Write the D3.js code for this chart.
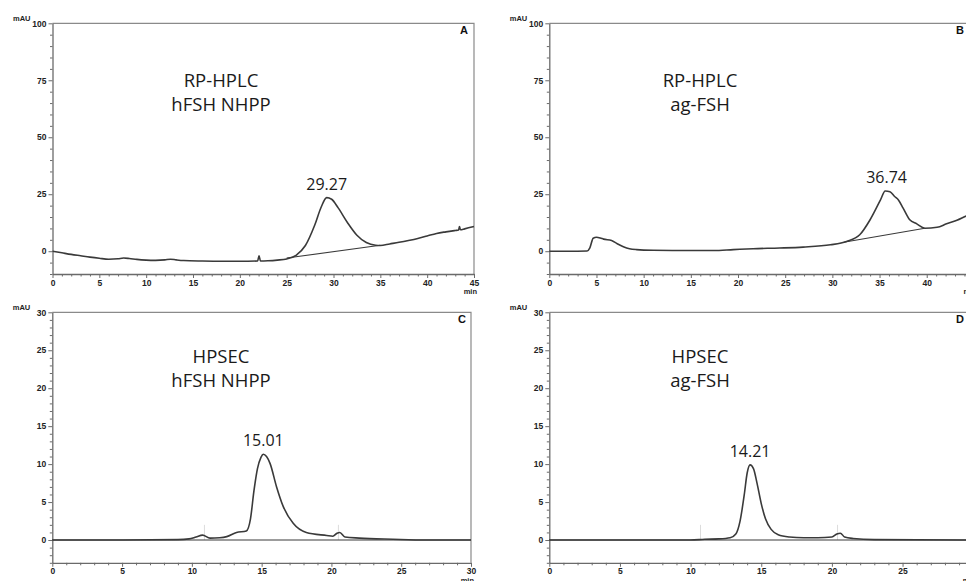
<!DOCTYPE html>
<html>
<head>
<meta charset="utf-8">
<script src="https://cdn.jsdelivr.net/npm/d3@7"></script>
<style>
  html, body { margin: 0; padding: 0; background: #fff; }
  svg { display: block; }
</style>
</head>
<body>
<svg id="chart" width="966" height="581"></svg>
<script>
// ---------- DATA ----------
// Panel A: RP-HPLC hFSH NHPP (time in min, signal in mAU)
const rpNhppTime   = [0, 1, 2, 3, 4, 5, 6, 7, 7.6, 8.2, 9, 10, 11, 12, 12.6, 13.2, 14, 16, 18, 20, 21.9, 22.05, 22.2, 23, 24, 25, 26, 27, 28, 28.7, 29.27, 29.8, 30.5, 31.5, 32.5, 33.5, 34.5, 35, 36, 37, 38, 39, 40, 41, 42, 43, 43.35, 43.45, 43.55, 44, 45];
const rpNhppSignal = [0, -0.7, -1.4, -2.0, -2.6, -3.1, -3.5, -3.3, -3.0, -3.2, -3.6, -3.9, -4.0, -3.8, -3.5, -3.8, -4.1, -4.3, -4.4, -4.4, -4.3, -2.0, -4.3, -4.2, -3.9, -3.4, -1.8, 2.5, 11.5, 19.5, 23.5, 22.8, 19.0, 12.5, 7.0, 3.8, 2.6, 2.5, 3.2, 3.9, 4.7, 5.6, 6.7, 7.8, 8.5, 9.1, 9.3, 10.8, 9.4, 9.8, 10.8];
const rpNhppBaseT  = [25, 35];
const rpNhppBaseV  = [-3.0, 2.6];

// Panel B: RP-HPLC ag-FSH
const rpAgTime   = [0, 2, 4.0, 4.3, 4.65, 5.0, 5.4, 5.75, 6.6, 7.2, 7.85, 8.5, 9.25, 11, 14, 17.4, 19.5, 21.6, 24.4, 26.9, 29.8, 31.5, 32.9, 34.0, 35.1, 35.6, 36.1, 36.6, 37.0, 37.5, 38.2, 38.95, 39.8, 41.1, 42.1, 43.2, 44.2, 45];
const rpAgSignal = [0, 0, 0.1, 1.5, 5.7, 6.1, 5.8, 5.3, 4.7, 3.3, 2.0, 1.1, 0.7, 0.4, 0.3, 0.3, 0.7, 1.1, 1.4, 1.8, 2.8, 4.3, 7.2, 13.8, 22.5, 26.4, 26.1, 24.0, 22.5, 18.9, 13.8, 12.0, 10.1, 10.5, 12.0, 13.6, 15.5, 16.8];
const rpAgBaseT  = [31.2, 39.8];
const rpAgBaseV  = [3.9, 10.1];

// Panel C: HPSEC hFSH NHPP
const secNhppTime   = [0, 5, 9, 9.8, 10.3, 10.77, 11.3, 12.0, 12.5, 13.2, 13.9, 14.2, 14.45, 14.7, 14.95, 15.12, 15.35, 15.6, 16.07, 16.55, 17.26, 18.2, 19.66, 20.1, 20.4, 20.6, 20.97, 22.0, 24.4, 26.8, 30];
const secNhppSignal = [0, 0, 0.05, 0.15, 0.4, 0.65, 0.25, 0.3, 0.45, 1.0, 1.2, 2.8, 6.5, 9.4, 10.9, 11.3, 11.0, 10.1, 7.0, 4.4, 2.2, 1.0, 0.6, 0.5, 0.9, 1.0, 0.4, 0.25, 0.1, 0.0, 0.0];

// Panel D: HPSEC ag-FSH
const secAgTime   = [0, 5, 10, 11, 12, 12.8, 13.2, 13.5, 13.8, 14.0, 14.21, 14.45, 14.7, 15.0, 15.3, 15.7, 16.2, 17, 18, 19, 20, 20.35, 20.6, 20.9, 21.5, 23, 30];
const secAgSignal = [0, 0, 0, 0.1, 0.15, 0.3, 0.8, 2.5, 6.0, 8.8, 9.9, 9.4, 7.5, 4.8, 2.8, 1.4, 0.7, 0.4, 0.3, 0.3, 0.4, 0.8, 0.9, 0.4, 0.2, 0.05, 0];

// Faint event marks (time) in the SEC runs
const secNhppMarkT = [10.9, 20.5];
const secAgMarkT   = [10.7, 20.4];
const secMarkTop   = 2.0;

// Axis ticks
const rpTimeTicks   = [0, 5, 10, 15, 20, 25, 30, 35, 40, 45];
const rpSignalTicks = [0, 25, 50, 75, 100];
const secTimeTicks   = [0, 5, 10, 15, 20, 25, 30];
const secSignalTicks = [0, 5, 10, 15, 20, 25, 30];

// Texts
const panelLetters = ["A", "B", "C", "D"];
const panelTitles = [["RP-HPLC", "hFSH NHPP"], ["RP-HPLC", "ag-FSH"], ["HPSEC", "hFSH NHPP"], ["HPSEC", "ag-FSH"]];
const peakLabels = ["29.27", "36.74", "15.01", "14.21"];
const peakTimes  = [29.27, 35.75, 15.12, 14.21];
const peakValues = [23.5, 26.4, 11.3, 9.9];

// ---------- LAYOUT ----------
const panels = [
  { t: rpNhppTime, v: rpNhppSignal, bt: rpNhppBaseT, bv: rpNhppBaseV, marks: [], xd: [0, 45], yd: [-10, 100], xr: [52.5, 474], yr: [274, 23.3], xt: rpTimeTicks, yt: rpSignalTicks, xMinor: 1, yMinor: 5, titleX: 221, titleY: 87, letterX: 468, minY: 294 },
  { t: rpAgTime, v: rpAgSignal, bt: rpAgBaseT, bv: rpAgBaseV, marks: [], xd: [0, 45], yd: [-10, 100], xr: [549.3, 973.9], yr: [274, 23.3], xt: rpTimeTicks, yt: rpSignalTicks, xMinor: 1, yMinor: 5, titleX: 700, titleY: 87, letterX: 964, minY: 294 },
  { t: secNhppTime, v: secNhppSignal, bt: [0, 30], bv: [0, 0], marks: secNhppMarkT, xd: [0, 30], yd: [-3, 30], xr: [52.3, 471], yr: [562.8, 312.3], xt: secTimeTicks, yt: secSignalTicks, xMinor: 1, yMinor: 1, titleX: 221, titleY: 363, letterX: 466, minY: 583 },
  { t: secAgTime, v: secAgSignal, bt: [0, 30], bv: [0, 0], marks: secAgMarkT, xd: [0, 30], yd: [-3, 30], xr: [549.3, 973.2], yr: [562.8, 312.3], xt: secTimeTicks, yt: secSignalTicks, xMinor: 1, yMinor: 1, titleX: 700, titleY: 363, letterX: 964, minY: 583 }
];

const svg = d3.select("#chart");
const axisColor = "#6a6a6a";
const frameColor = "#8a8a8a";
const curveColor = "#3a3a3a";
const tickFont = "'Liberation Sans', Arial, sans-serif";
const textFont = "'Open Sans', 'Noto Sans', sans-serif";

panels.forEach((p, i) => {
  const x = d3.scaleLinear().domain(p.xd).range(p.xr);
  const y = d3.scaleLinear().domain(p.yd).range(p.yr);
  const g = svg.append("g");

  // frame (top and right)
  g.append("path")
    .attr("d", `M${p.xr[0]},${p.yr[1]}H${p.xr[1]}V${p.yr[0]}`)
    .attr("fill", "none").attr("stroke", frameColor).attr("stroke-width", 1.2);

  // faint event marks
  g.selectAll("line.mark").data(p.marks).join("line").attr("class", "mark")
    .attr("x1", d => x(d)).attr("x2", d => x(d))
    .attr("y1", y(0)).attr("y2", y(secMarkTop))
    .attr("stroke", "#dcdcdc").attr("stroke-width", 1);

  // minor x ticks
  const xMinorTicks = d3.range(p.xd[0], p.xd[1] + 0.001, p.xMinor).filter(v => !p.xt.includes(v));
  g.append("g").attr("transform", `translate(0,${p.yr[0]})`)
    .call(d3.axisBottom(x).tickValues(xMinorTicks).tickSize(2.5).tickFormat(""))
    .call(a => a.select(".domain").remove())
    .call(a => a.selectAll("line").attr("stroke", axisColor));

  // major x axis
  g.append("g").attr("transform", `translate(0,${p.yr[0]})`)
    .call(d3.axisBottom(x).tickValues(p.xt).tickSize(4).tickSizeOuter(0).tickPadding(1.5))
    .call(a => a.select(".domain").attr("stroke", axisColor).attr("stroke-width", 1.3))
    .call(a => a.selectAll("line").attr("stroke", axisColor))
    .call(a => a.selectAll("text").attr("font-family", tickFont).attr("font-weight", "bold").attr("font-size", 8.5).attr("fill", "#222"));

  // minor y ticks
  const yMinorTicks = d3.range(p.yd[0], p.yd[1] + 0.001, p.yMinor).filter(v => !p.yt.includes(v));
  g.append("g").attr("transform", `translate(${p.xr[0]},0)`)
    .call(d3.axisLeft(y).tickValues(yMinorTicks).tickSize(2.5).tickFormat(""))
    .call(a => a.select(".domain").remove())
    .call(a => a.selectAll("line").attr("stroke", axisColor));

  // major y axis
  g.append("g").attr("transform", `translate(${p.xr[0]},0)`)
    .call(d3.axisLeft(y).tickValues(p.yt).tickSize(4).tickSizeOuter(0).tickPadding(2))
    .call(a => a.select(".domain").attr("stroke", axisColor).attr("stroke-width", 1.3))
    .call(a => a.selectAll("line").attr("stroke", axisColor))
    .call(a => a.selectAll("text").attr("font-family", tickFont).attr("font-weight", "bold").attr("font-size", 8.5).attr("fill", "#222"));

  // unit labels
  g.append("text").attr("x", p.xr[0] - 22).attr("y", p.yr[1] - 2)
    .attr("text-anchor", "end").attr("font-family", tickFont).attr("font-weight", "bold")
    .attr("font-size", 7.5).attr("fill", "#222").text("mAU");
  g.append("text").attr("x", x(p.xd[1]) + 3).attr("y", p.minY)
    .attr("text-anchor", "end").attr("font-family", tickFont).attr("font-weight", "bold")
    .attr("font-size", 7.5).attr("fill", "#222").text("min");

  // integration baseline
  const baseData = p.bt.map((t, k) => [t, p.bv[k]]);
  g.append("path").datum(baseData)
    .attr("d", d3.line().x(d => x(d[0])).y(d => y(d[1])))
    .attr("fill", "none").attr("stroke", curveColor).attr("stroke-width", 1.1);

  // chromatogram
  const data = p.t.map((t, k) => [t, p.v[k]]);
  g.append("path").datum(data)
    .attr("d", d3.line().x(d => x(d[0])).y(d => y(d[1])).curve(d3.curveMonotoneX))
    .attr("fill", "none").attr("stroke", curveColor).attr("stroke-width", 1.6);

  // panel letter
  g.append("text").attr("x", p.letterX).attr("y", p.yr[1] + 11)
    .attr("text-anchor", "end").attr("font-family", tickFont).attr("font-weight", "bold")
    .attr("font-size", 11).attr("fill", "#111").text(panelLetters[i]);

  // title
  panelTitles[i].forEach((line, k) => {
    g.append("text").attr("x", p.titleX).attr("y", p.titleY + k * 24)
      .attr("text-anchor", "middle").attr("font-family", textFont)
      .attr("font-size", 18.5).attr("fill", "#1a1a1a").text(line);
  });

  // peak label
  g.append("text").attr("x", x(peakTimes[i])).attr("y", y(peakValues[i]) - 8)
    .attr("text-anchor", "middle").attr("font-family", textFont)
    .attr("font-size", 16).attr("fill", "#1a1a1a").text(peakLabels[i]);
});
</script>
</body>
</html>
